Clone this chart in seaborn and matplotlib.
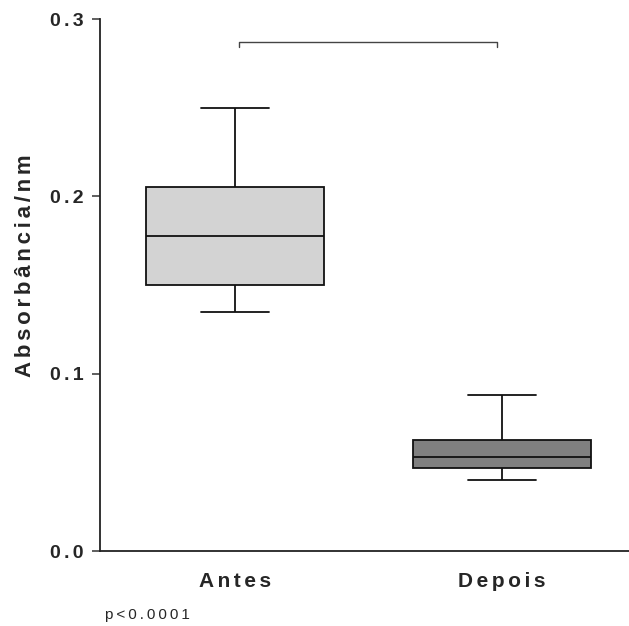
import matplotlib
matplotlib.use("Agg")
import matplotlib.pyplot as plt
import seaborn as sns
import pandas as pd

categories = ["Antes", "Depois"]
antes_values = [0.135, 0.150, 0.1775, 0.205, 0.250]
depois_values = [0.040, 0.047, 0.053, 0.0627, 0.088]
y_ticks = [0.0, 0.1, 0.2, 0.3]
y_label = "Absorbância/nm"
p_text = "p<0.0001"

sns.set_style("ticks")
plt.rcParams["font.family"] = ["Liberation Sans", "DejaVu Sans"]

def spaced(s, sp="\u2006"):
    return sp.join(list(s))

df = pd.DataFrame({
    "grupo": [categories[0]] * len(antes_values) + [categories[1]] * len(depois_values),
    "valor": antes_values + depois_values,
})

W, H = 629, 626
fig = plt.figure(figsize=(W / 100, H / 100), dpi=100)
ax = fig.add_axes([100 / W, 1 - 551 / H, 529 / W, 532 / H])

sns.boxplot(
    data=df, x="grupo", y="valor", hue="grupo", order=categories,
    palette={categories[0]: "#D3D3D3", categories[1]: "#808080"},
    width=0.667, gap=0, whis=(0, 100), fliersize=0, legend=False, ax=ax,
    linewidth=1.3, linecolor="#111111", capwidths=0.255,
)

ax.set_xlim(-0.506, 1.476)
ax.set_ylim(0, 0.3)
ax.set_yticks(y_ticks)
ax.set_yticklabels([spaced(f"{v:.1f}") for v in y_ticks], fontsize=14, fontweight="bold")
ax.set_xticks([0, 1])
ax.set_xticklabels([spaced(c) for c in categories], fontsize=15, fontweight="bold")
ax.tick_params(axis="x", length=0, pad=15)
ax.tick_params(axis="y", length=6, width=1.1, color="#333333", pad=6)
ax.set_xlabel("")
ax.set_ylabel("")
for side in ["top", "right"]:
    ax.spines[side].set_visible(False)
for side in ["left", "bottom"]:
    ax.spines[side].set_linewidth(1.3)
    ax.spines[side].set_color("#222222")

# significance bracket
ax.plot([0.015, 0.015, 0.981, 0.981], [0.2842, 0.2873, 0.2873, 0.2842],
        color="#444444", lw=1.0, clip_on=False)

fig.text(26 / W, 1 - 266 / H, spaced(y_label), rotation=90, fontsize=16,
         fontweight="bold", ha="center", va="center")
fig.text(105 / W, 1 - 615 / H, spaced(p_text, "\u2009"), fontsize=11, ha="left", va="center")

fig.savefig("out.png", dpi=100)
